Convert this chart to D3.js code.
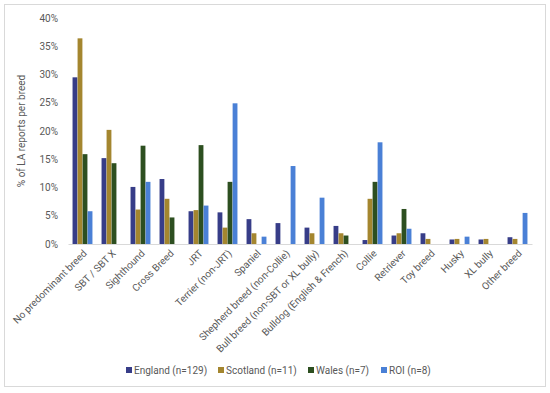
<!DOCTYPE html>
<html>
<head>
<meta charset="utf-8">
<script src="https://cdn.jsdelivr.net/npm/d3@7"></script>
<style>
  body { margin: 0; background: #fff; }
  text { font-family: Roboto, "Noto Sans", sans-serif; fill: #595959; }
</style>
</head>
<body>
<div id="d3-container"></div>
<script>
// breeds along the x axis
let breeds = ['No predominant breed', 'SBT / SBT X', 'Sighthound', 'Cross Breed', 'JRT',
  'Terrier (non-JRT)', 'Spaniel', 'Shepherd breed (non-Collie)', 'Bull breed (non-SBT or XL bully)',
  'Bulldog (English & French)', 'Collie', 'Retriever', 'Toy breed', 'Husky', 'XL bully', 'Other breed'];

let seriesNames = ['England (n=129)', 'Scotland (n=11)', 'Wales (n=7)', 'ROI (n=8)'];

// % of LA reports (null = no bar)
let england  = [29.5, 15.2, 10.1, 11.5, 5.8, 5.6, 4.4, 3.7, 2.9, 3.2, 0.7, 1.5, 1.9, 0.8, 0.8, 1.2];
let scotland = [36.4, 20.2, 6.1, 8.0, 6.0, 2.9, 1.9, null, 1.9, 1.9, 8.0, 1.9, 0.9, 0.9, 0.9, 0.9];
let wales    = [15.9, 14.3, 17.4, 4.7, 17.5, 11.0, null, null, null, 1.5, 11.0, 6.2, null, null, null, null];
let roi      = [5.8, null, 11.0, null, 6.8, 24.9, 1.3, 13.8, 8.2, null, 18.0, 2.7, null, 1.3, null, 5.5];

let yTicks = [0, 5, 10, 15, 20, 25, 30, 35, 40];
let colors = ['#373d88', '#a4862f', '#2d4f20', '#4a80d6'];

let W = 550, H = 393;
let margin = { top: 18, left: 68, right: 18, bottom: 149 },
  width = W - margin.left - margin.right,
  height = H - margin.top - margin.bottom;

let svg = d3
  .select('#d3-container')
  .append('svg')
  .attr('width', W)
  .attr('height', H);

// outer frame
svg.append('rect')
  .attr('x', 4.5).attr('y', 4.5)
  .attr('width', 541).attr('height', 382)
  .attr('fill', 'white')
  .attr('stroke', '#d9d9d9');

let g = svg.append('g').attr('transform', 'translate(' + margin.left + ',' + margin.top + ')');

let xScale = d3.scaleBand().domain(breeds).range([0, width]).paddingInner(0.3).paddingOuter(0.15);
let xSub = d3.scaleBand().domain(d3.range(4)).range([0, xScale.bandwidth()]).padding(0.04);
let yScale = d3.scaleLinear().domain([0, 40]).range([height, 0]);

// y axis labels only
let yAxis = g.append('g')
  .call(d3.axisLeft(yScale).tickValues(yTicks).tickFormat(function (d) { return d + '%'; }).tickSize(0).tickPadding(10));
yAxis.select('.domain').remove();
yAxis.selectAll('text').style('font-size', '10px').attr('fill', '#595959');

// bars
let series = [england, scotland, wales, roi];
series.forEach(function (vals, si) {
  g.selectAll('.bar' + si)
    .data(breeds.map(function (b, i) { return { breed: b, v: vals[i] }; }).filter(function (d) { return d.v != null; }))
    .enter()
    .append('rect')
    .attr('class', 'bar' + si)
    .attr('x', function (d) { return xScale(d.breed) + xSub(si); })
    .attr('y', function (d) { return yScale(d.v); })
    .attr('width', xSub.bandwidth())
    .attr('height', function (d) { return height - yScale(d.v); })
    .attr('fill', colors[si]);
});

// x axis
let xAxis = g.append('g')
  .attr('transform', 'translate(0,' + height + ')')
  .call(d3.axisBottom(xScale).tickSize(0).tickPadding(0));
xAxis.select('.domain').attr('stroke', '#d9d9d9');
xAxis.selectAll('text')
  .style('font-size', '10px')
  .attr('fill', '#595959')
  .attr('text-anchor', 'end')
  .attr('dy', '0')
  .attr('transform', 'translate(5,10) rotate(-45)');

// y axis title
svg.append('text')
  .attr('transform', 'translate(25,' + (margin.top + height / 2) + ') rotate(-90)')
  .attr('text-anchor', 'middle')
  .style('font-size', '10px')
  .text('% of LA reports per breed');

// legend
let legendX = [126, 218, 308, 381];
let legend = svg.append('g').attr('transform', 'translate(0,371)');
seriesNames.forEach(function (name, i) {
  legend.append('rect')
    .attr('x', legendX[i]).attr('y', -4)
    .attr('width', 6).attr('height', 6)
    .attr('fill', colors[i]);
  legend.append('text')
    .attr('x', legendX[i] + 8).attr('y', 0)
    .attr('dy', '0.32em')
    .style('font-size', '10px')
    .text(name);
});
</script>
</body>
</html>
